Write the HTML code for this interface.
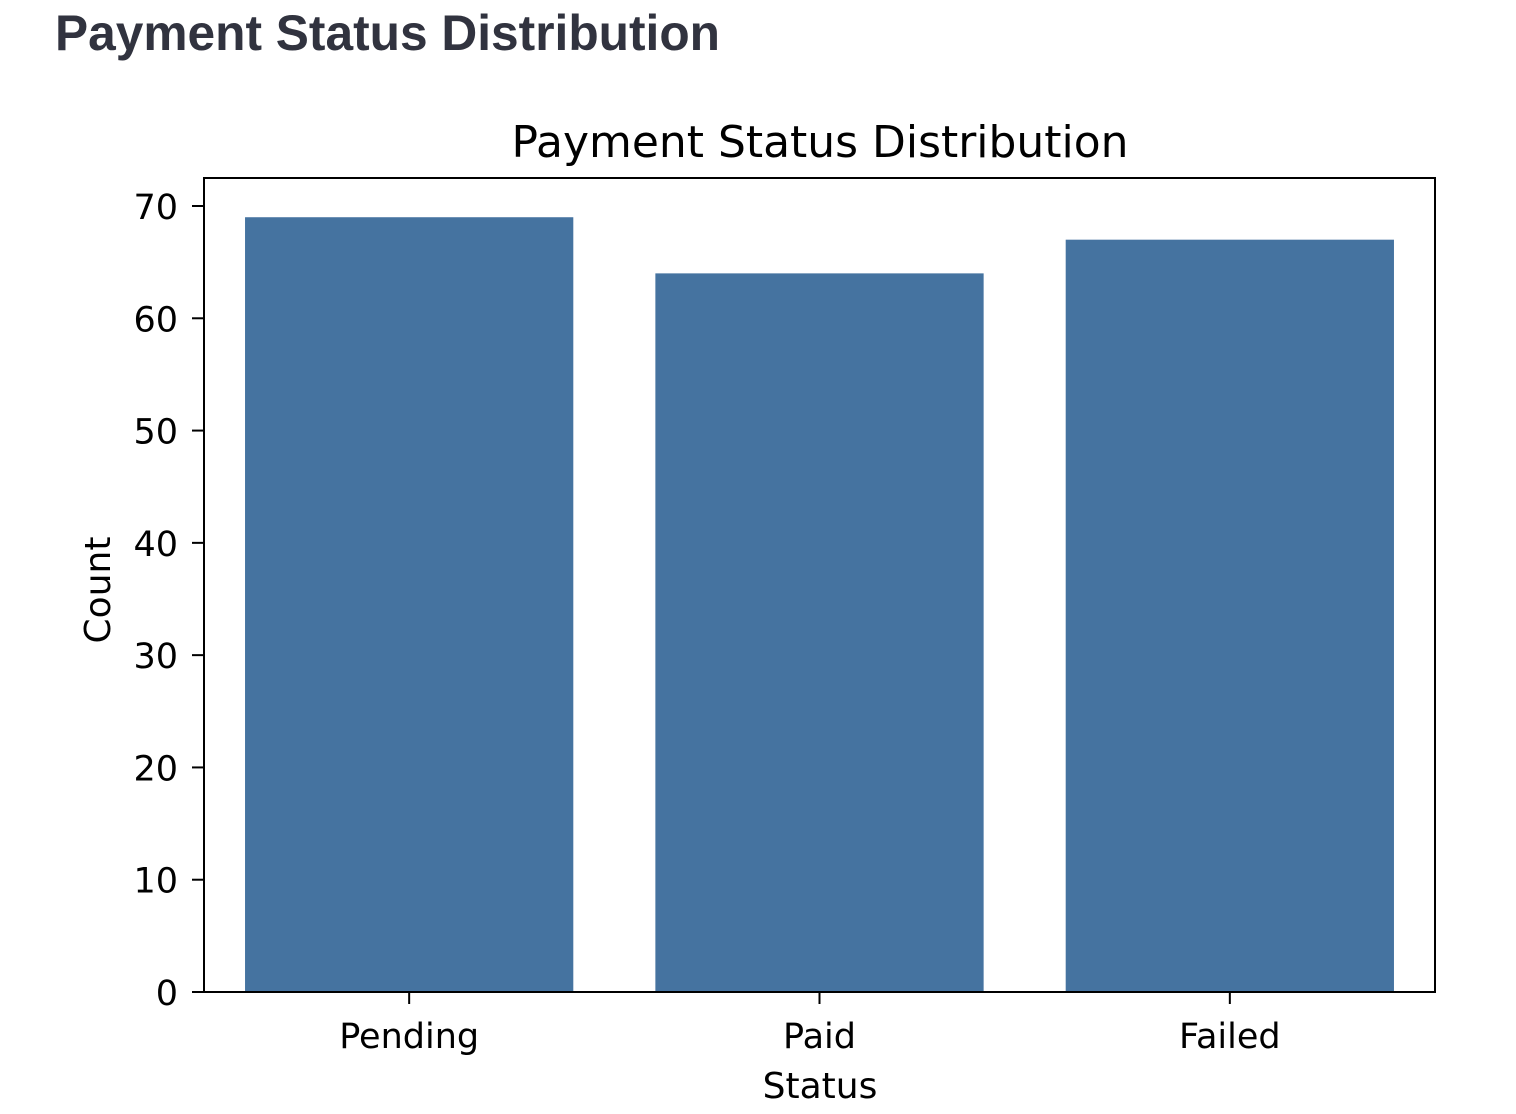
<!DOCTYPE html>
<html><head><meta charset="utf-8"><style>
html,body{margin:0;padding:0;background:#fff;}
svg{display:block;}
</style></head><body>
<svg id="chart" width="1516" height="1114" xmlns="http://www.w3.org/2000/svg">
<text x="55" y="50" font-family="Liberation Sans, sans-serif" font-weight="bold" font-size="50" fill="#31333f" textLength="665" lengthAdjust="spacingAndGlyphs">Payment Status Distribution</text>
<text x="820" y="157" text-anchor="middle" font-family="DejaVu Sans, sans-serif" font-size="44" fill="#000" textLength="617" lengthAdjust="spacingAndGlyphs">Payment Status Distribution</text>
<g id="bars"></g>
<g id="yaxis"></g>
<g id="xaxis"></g>
<rect x="204" y="178" width="1231" height="814" fill="none" stroke="#000" stroke-width="2"/>
<text transform="translate(110,590) rotate(-90)" text-anchor="middle" font-family="DejaVu Sans, sans-serif" font-size="36" fill="#000">Count</text>
<text x="820" y="1098" text-anchor="middle" font-family="DejaVu Sans, sans-serif" font-size="36" fill="#000">Status</text>
</svg>
<script>
const categories = ["Pending", "Paid", "Failed"];
const counts = [69, 64, 67];
const yTicks = [0, 10, 20, 30, 40, 50, 60, 70];
const NS = "http://www.w3.org/2000/svg";
const L = 204, R = 1435, B = 992, yTop70 = 206;
function xScale(i){ return L + (i + 0.5) * (R - L) / categories.length; }
function yScale(v){ return B - v * (B - yTop70) / 70; }
const bw = 0.8 * (R - L) / categories.length;
function mk(tag, attrs){ const e = document.createElementNS(NS, tag); for (const k in attrs) e.setAttribute(k, attrs[k]); return e; }
const bars = document.getElementById('bars'), ya = document.getElementById('yaxis'), xa = document.getElementById('xaxis');
categories.forEach((c, i) => {
  const r = mk('rect', {x: xScale(i) - bw/2, y: yScale(counts[i]), width: bw, height: B - yScale(counts[i]), fill: '#4573a0'});
  
  
  bars.appendChild(r);
  const t = mk('line', {x1: xScale(i), x2: xScale(i), y1: B, y2: B + 12, stroke: '#000', 'stroke-width': 2});
  
  
  xa.appendChild(t);
  const lb = mk('text', {x: xScale(i), y: 1048, 'text-anchor': 'middle', 'font-family': 'DejaVu Sans, sans-serif', 'font-size': 35});
  lb.textContent = c;
  
  
  xa.appendChild(lb);
});
yTicks.forEach(v => {
  const t = mk('line', {x1: L - 12, x2: L, y1: yScale(v), y2: yScale(v), stroke: '#000', 'stroke-width': 2});
  
  
  ya.appendChild(t);
  const lb = mk('text', {x: L - 26, y: yScale(v) + 13, 'text-anchor': 'end', 'font-family': 'DejaVu Sans, sans-serif', 'font-size': 35});
  lb.textContent = v;
  
  
  ya.appendChild(lb);
});
</script>
</body></html>
